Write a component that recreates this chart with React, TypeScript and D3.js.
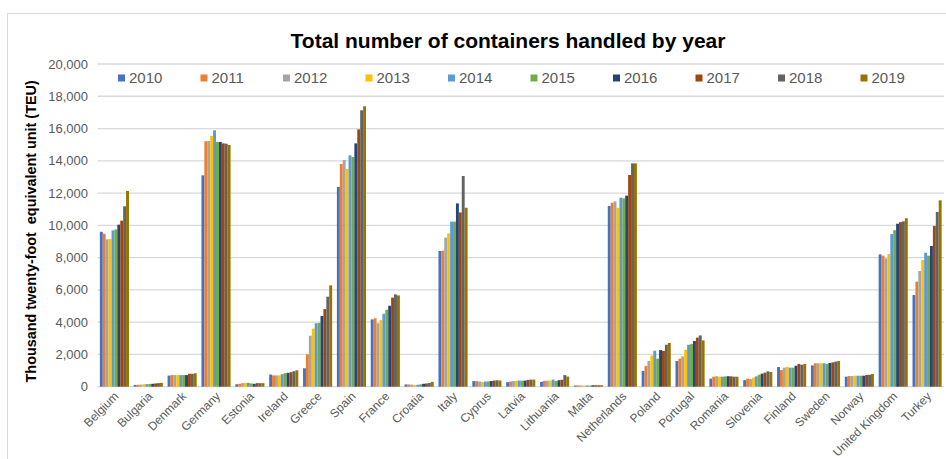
import * as d3 from 'd3';
import React, { useEffect, useRef } from 'react';

const countries = [
  'Belgium', 'Bulgaria', 'Denmark', 'Germany', 'Estonia', 'Ireland', 'Greece', 'Spain',
  'France', 'Croatia', 'Italy', 'Cyprus', 'Latvia', 'Lithuania', 'Malta', 'Netherlands',
  'Poland', 'Portugal', 'Romania', 'Slovenia', 'Finland', 'Sweden', 'Norway',
  'United Kingdom', 'Turkey',
];

const years = ['2010', '2011', '2012', '2013', '2014', '2015', '2016', '2017', '2018', '2019'];

const teu2010 = [9600, 110, 690, 13100, 150, 750, 1140, 12380, 4170, 140, 8410, 350, 280, 300, 70, 11200, 980, 1590, 500, 410, 1220, 1320, 620, 8200, 5680];
const teu2011 = [9480, 120, 720, 15210, 180, 700, 2000, 13800, 4240, 140, 8430, 350, 320, 360, 80, 11400, 1290, 1740, 620, 500, 1030, 1450, 660, 8120, 6510];
const teu2012 = [9130, 130, 720, 15230, 220, 700, 3160, 14050, 3930, 130, 9240, 320, 350, 380, 80, 11490, 1590, 1880, 650, 480, 1180, 1450, 660, 7950, 7170];
const teu2013 = [9150, 150, 720, 15540, 230, 700, 3600, 13490, 4130, 110, 9500, 290, 360, 380, 70, 11090, 1930, 2290, 620, 560, 1220, 1450, 680, 8220, 7850];
const teu2014 = [9690, 160, 720, 15890, 240, 780, 3930, 14340, 4520, 120, 10230, 320, 380, 440, 80, 11710, 2230, 2600, 620, 640, 1180, 1450, 680, 9460, 8300];
const teu2015 = [9750, 170, 720, 15170, 200, 840, 3950, 14240, 4770, 150, 10230, 330, 370, 360, 70, 11670, 1740, 2640, 640, 740, 1180, 1410, 680, 9700, 8120];
const teu2016 = [10040, 180, 720, 15170, 180, 860, 4380, 15080, 5020, 180, 11360, 350, 380, 400, 90, 11840, 2270, 2830, 650, 810, 1300, 1470, 680, 10100, 8720];
const teu2017 = [10290, 200, 800, 15080, 220, 900, 4810, 15950, 5520, 200, 10800, 380, 420, 430, 90, 13120, 2220, 3040, 640, 870, 1410, 1510, 720, 10200, 9960];
const teu2018 = [11180, 220, 800, 15060, 220, 960, 5580, 17130, 5720, 230, 13060, 400, 440, 720, 90, 13840, 2600, 3180, 620, 950, 1360, 1550, 740, 10250, 10830];
const teu2019 = [12130, 240, 830, 14980, 220, 1020, 6280, 17380, 5660, 300, 11090, 380, 440, 630, 90, 13840, 2710, 2870, 620, 910, 1410, 1590, 790, 10440, 11550];

const series = [teu2010, teu2011, teu2012, teu2013, teu2014, teu2015, teu2016, teu2017, teu2018, teu2019];

const colors = ['#4472C4', '#ED7D31', '#A5A5A5', '#FFC000', '#5B9BD5', '#70AD47', '#264478', '#9E480E', '#636363', '#997300'];

const yTicks = [0, 2000, 4000, 6000, 8000, 10000, 12000, 14000, 16000, 18000, 20000];

const W = 946;
const H = 459;

export default function App() {
  const ref = useRef(null);

  useEffect(() => {
    const svg = d3.select(ref.current);
    svg.selectAll('*').remove();

    const left = 97.5;
    const right = 944;
    const top = 64;
    const bottom = 386.7;

    const x0 = d3.scaleBand().domain(countries).range([left, right]).paddingInner(0.14).paddingOuter(0.07);
    const x1 = d3.scaleBand().domain(years).range([0, x0.bandwidth()]);
    const y = d3.scaleLinear().domain([0, 20000]).range([bottom, top]);

    // chart border
    svg.append('rect')
      .attr('x', 7.5).attr('y', 13.5).attr('width', 960).attr('height', 480)
      .attr('fill', '#fff').attr('stroke', '#d9d9d9').attr('stroke-width', 1);

    svg.append('text')
      .attr('x', 508).attr('y', 48)
      .attr('text-anchor', 'middle')
      .attr('font-family', '"Liberation Sans", Arial, sans-serif')
      .attr('font-weight', 'bold').attr('font-size', 21)
      .attr('fill', '#000')
      .text('Total number of containers handled by year');

    // grid
    svg.append('g')
      .selectAll('line')
      .data(yTicks)
      .join('line')
      .attr('x1', left).attr('x2', right)
      .attr('y1', (d) => y(d)).attr('y2', (d) => y(d))
      .attr('stroke', '#d9d9d9').attr('stroke-width', 1.3);

    svg.append('g')
      .selectAll('text')
      .data(yTicks)
      .join('text')
      .attr('x', 88).attr('y', (d) => y(d))
      .attr('dy', '0.35em')
      .attr('text-anchor', 'end')
      .attr('font-family', '"Liberation Sans", Arial, sans-serif')
      .attr('font-size', 13).attr('fill', '#595959')
      .text((d) => d3.format(',')(d));

    svg.append('text')
      .attr('transform', `translate(36, ${(top + bottom) / 2 + 6}) rotate(-90)`)
      .attr('text-anchor', 'middle')
      .attr('font-family', '"Liberation Sans", Arial, sans-serif')
      .attr('font-weight', 'bold').attr('font-size', 14.4)
      .attr('fill', '#000')
      .style('white-space', 'pre')
      .text('Thousand twenty-foot  equivalent unit (TEU)');

    // bars
    const groups = svg.append('g')
      .selectAll('g')
      .data(countries)
      .join('g')
      .attr('transform', (c) => `translate(${x0(c)}, 0)`);

    groups.selectAll('rect')
      .data((c, i) => years.map((yr, k) => ({ yr, k, v: series[k][i] })))
      .join('rect')
      .attr('x', (d) => x1(d.yr) ?? 0)
      .attr('y', (d) => y(d.v))
      .attr('width', x1.bandwidth())
      .attr('height', (d) => y(0) - y(d.v))
      .attr('fill', (d) => colors[d.k]);

    // x labels
    svg.append('g')
      .selectAll('text')
      .data(countries)
      .join('text')
      .attr('transform', (c) => `translate(${(x0(c) ?? 0) + x0.bandwidth() / 2 + 2}, 394) rotate(-45)`)
      .attr('dy', '0.35em')
      .attr('text-anchor', 'end')
      .attr('font-family', '"Liberation Sans", Arial, sans-serif')
      .attr('font-size', 12).attr('fill', '#595959')
      .text((c) => c);

    // legend
    const legend = svg.append('g')
      .selectAll('g')
      .data(years)
      .join('g')
      .attr('transform', (d, i) => `translate(${118 + i * 82.5}, 78)`);

    legend.append('rect')
      .attr('x', 0).attr('y', -3.5).attr('width', 7).attr('height', 7)
      .attr('fill', (d, i) => colors[i]);

    legend.append('text')
      .attr('x', 11).attr('y', 0).attr('dy', '0.36em')
      .attr('font-family', '"Liberation Sans", Arial, sans-serif')
      .attr('font-size', 15).attr('fill', '#595959')
      .text((d) => d);
  }, []);

  return (
    <svg
      ref={ref}
      width={W}
      height={H}
      style={{ position: 'absolute', left: 0, top: 0, background: '#fff' }}
    />
  );
}
